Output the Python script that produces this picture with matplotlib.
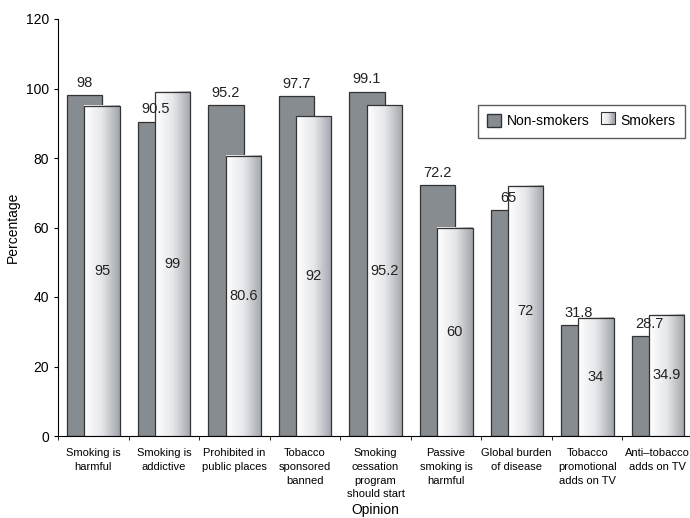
import matplotlib
matplotlib.use("Agg")
import matplotlib.pyplot as plt
import numpy as np
from matplotlib.patches import Rectangle
from matplotlib.legend_handler import HandlerBase
from matplotlib.colors import LinearSegmentedColormap

plt.rcParams['font.family'] = ['Liberation Sans', 'DejaVu Sans']

categories = ["Smoking is\nharmful", "Smoking is\naddictive", "Prohibited in\npublic places",
              "Tobacco\nsponsored\nbanned", "Smoking\ncessation\nprogram\nshould start",
              "Passive\nsmoking is\nharmful", "Global burden\nof disease",
              "Tobacco\npromotional\nadds on TV", "Anti\u2013tobacco\nadds on TV"]
non_smokers = [98, 90.5, 95.2, 97.7, 99.1, 72.2, 65, 31.8, 28.7]
smokers = [95, 99, 80.6, 92, 95.2, 60, 72, 34, 34.9]
yticks = [0, 20, 40, 60, 80, 100, 120]

dark = "#878c91"
grad = LinearSegmentedColormap.from_list("g", ["#ffffff", "#e6e7ea", "#a2a6ac"])


class GradHandler(HandlerBase):
    # legend box with a left-to-right gradient, like the smoker bars
    def create_artists(self, legend, orig, xd, yd, w, h, fontsize, trans):
        arts = []
        n = 12
        for i in range(n):
            arts.append(Rectangle((xd + w * i / n, yd), w / n, h, facecolor=grad(i / (n - 1)),
                                  edgecolor="none", transform=trans))
        arts.append(Rectangle((xd, yd), w, h, facecolor="none", edgecolor="#333333",
                              lw=0.8, transform=trans))
        return arts


fig = plt.figure(figsize=(6.9, 5.18), dpi=100)
ax = fig.add_axes([58 / 690, 82 / 518, 635 / 690, 417 / 518])

x = np.arange(len(categories))
w = 0.5
off_n, off_s = -0.12, 0.125

ax.bar(x + off_n, non_smokers, w, color=dark, edgecolor="#333333", lw=0.9, zorder=2)
gimg = np.linspace(0, 1, 64).reshape(1, -1)
for xi, v in zip(x + off_s, smokers):
    ax.imshow(gimg, cmap=grad, aspect="auto", extent=(xi - w / 2, xi + w / 2, 0, v), zorder=3)
    ax.add_patch(Rectangle((xi - w / 2, 0), w, v, facecolor="none", edgecolor="#333333",
                           lw=0.9, zorder=4))

for xi, v in zip(x + off_n, non_smokers):
    ax.text(xi, v + 3.5, f"{v:g}", ha="center", va="center", fontsize=10.5, color="#222222", zorder=5)
for xi, v in zip(x + off_s, smokers):
    ax.text(xi, v / 2, f"{v:g}", ha="center", va="center", fontsize=10.5, color="#222222", zorder=5)

ax.set_xlim(-0.5, len(categories) - 0.5)
ax.set_ylim(0, 120)
ax.set_yticks(yticks)
ax.set_xticks(x)
ax.set_xticklabels(categories, fontsize=8, linespacing=1.45)
ax.set_xticks(np.arange(len(categories) + 1) - 0.5, minor=True)
ax.tick_params(axis="x", which="major", length=0, pad=9)
ax.tick_params(axis="x", which="minor", length=3, direction="out")
ax.tick_params(axis="y", length=3, labelsize=10)
for s in ["top", "right"]:
    ax.spines[s].set_visible(False)
ax.set_ylabel("Percentage", fontsize=10)
ax.set_xlabel("Opinion", fontsize=10, labelpad=3)

h1 = Rectangle((0, 0), 1, 1, facecolor=dark, edgecolor="#333333")
h2 = Rectangle((0, 0), 1, 1)
ax.legend([h1, h2], ["Non-smokers", "Smokers"], handler_map={h2: GradHandler()},
          ncol=2, loc="upper left", bbox_to_anchor=(420 / 635, 1 - 86 / 417),
          borderaxespad=0, fancybox=False, edgecolor="#333333", fontsize=10,
          handlelength=1.0, handleheight=1.0, columnspacing=0.8, handletextpad=0.4,
          borderpad=0.68)

fig.savefig("out.png", dpi=100)
